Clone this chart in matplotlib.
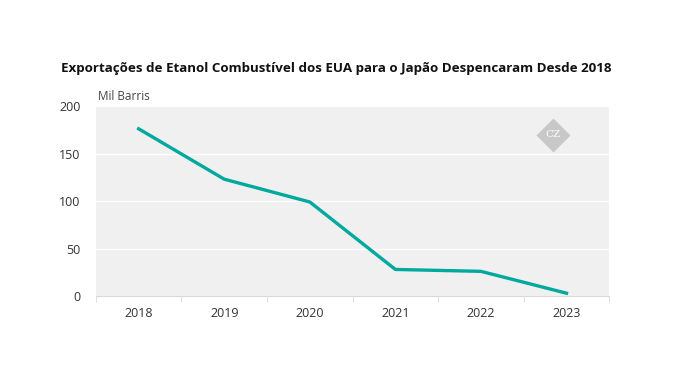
import numpy as np
import matplotlib.pyplot as plt

plt.rcParams['font.family'] = ['Open Sans', 'DejaVu Sans']

# Data
years = ['2018', '2019', '2020', '2021', '2022', '2023']
exports = [176, 123, 99, 28, 26, 3]
yticks = [0, 50, 100, 150, 200]

fig = plt.figure(figsize=(6.8, 3.82), dpi=100)
ax = fig.add_axes([0.141, 0.225, 0.755, 0.4975])
ax.set_facecolor('#f0f0f0')

x = np.arange(len(years))
ax.plot(x, exports, color='#00a99d', lw=2.4, solid_joinstyle='round', zorder=3)

ax.set_xlim(-0.5, len(years) - 0.5)
ax.set_ylim(0, 200)
ax.set_yticks(yticks)
ax.set_xticks(x)
ax.set_xticklabels(years)
ax.set_xticks(np.arange(-0.5, len(years)), minor=True)
ax.grid(axis='y', color='white', lw=1)
ax.set_axisbelow(True)

for s in ['top', 'right', 'left']:
    ax.spines[s].set_visible(False)
ax.spines['bottom'].set_color('#d9d9d9')
ax.tick_params(axis='x', which='major', length=0, pad=8, labelsize=9, colors='#333333')
ax.tick_params(axis='x', which='minor', length=4, color='#d9d9d9')
ax.tick_params(axis='y', length=0, pad=11, labelsize=9, colors='#333333')

# watermark
ax.plot([0.89], [0.85], marker='D', ms=17, color='#c8c8c8', mec='none',
        transform=ax.transAxes, zorder=2)
ax.text(0.89, 0.85, 'CZ', transform=ax.transAxes, ha='center', va='center',
        fontsize=7.5, color='white', family='DejaVu Serif', zorder=3)

fig.text(0.495, 0.82, 'Exportações de Etanol Combustível dos EUA para o Japão Despencaram Desde 2018',
         ha='center', va='center', fontsize=9.6, fontweight='bold', color='#111111')
fig.text(0.144, 0.747, 'Mil Barris', ha='left', va='center', fontsize=8.5, color='#444444')

fig.savefig('out.png', dpi=100)
